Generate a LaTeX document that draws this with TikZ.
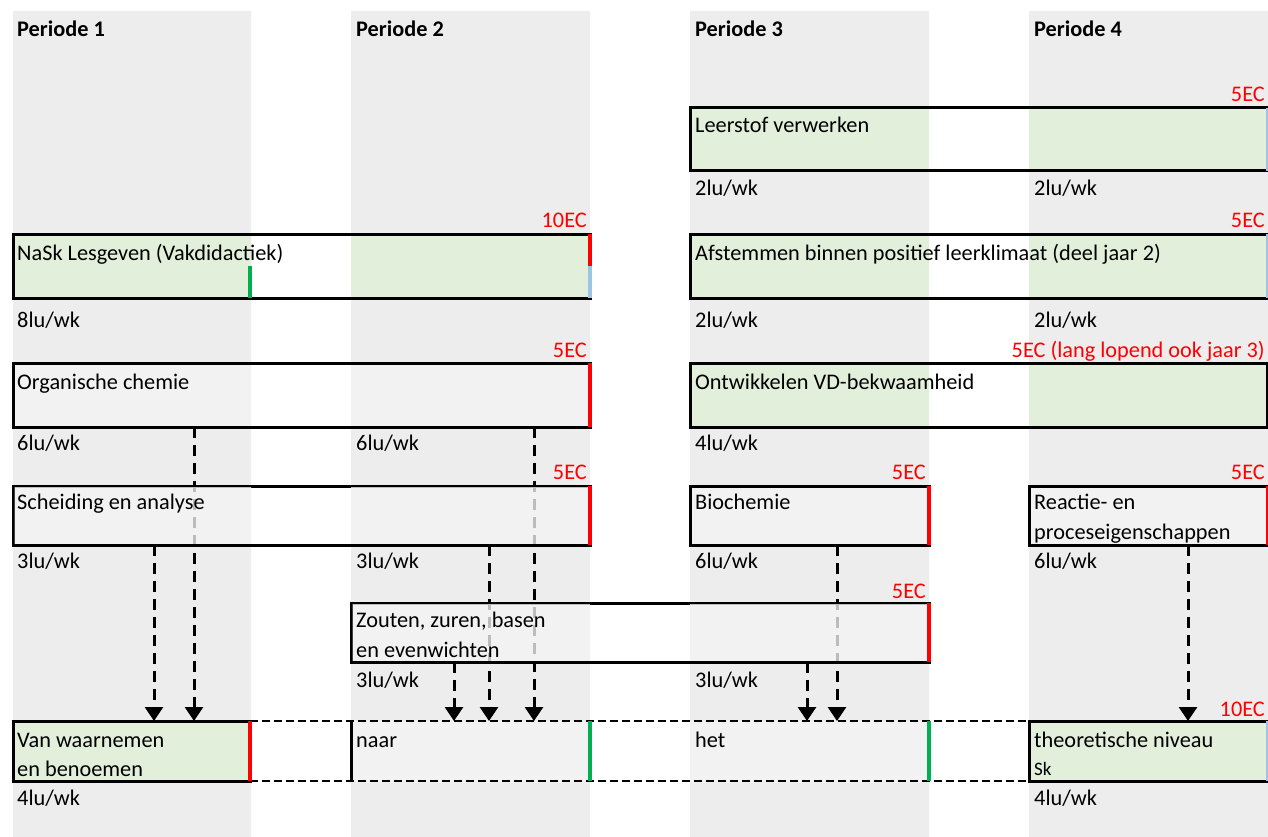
\documentclass[tikz,border=0pt]{standalone}
\usepackage{fontspec}
\setmainfont{Carlito}
\usetikzlibrary{arrows.meta}
\definecolor{colgray}{HTML}{EDEDED}
\definecolor{boxgray}{HTML}{F2F2F2}
\definecolor{boxgreen}{HTML}{E2EFDA}
\definecolor{ecred}{HTML}{FF0000}
\definecolor{edgegreen}{HTML}{00B050}
\definecolor{edgeblue}{HTML}{9DC3E6}
\newcommand\fs{\fontsize{22.3}{26}\selectfont}
\newcommand\colrects{(13,0) rectangle (251,837) (351,0) rectangle (590,837) (690,0) rectangle (929,837) (1029,0) rectangle (1268,837)}
\newcommand\mycellfill[5]{%
  \begin{scope}
    \clip (#1,#2) rectangle (#3,#4);
    \fill[white] (#1,#2) rectangle (#3,#4);
    \fill[#5] \colrects;
  \end{scope}}
\newcommand\myfade[4]{%
  \begin{scope}
    \clip (#1+1.6,#2+1.6) rectangle (#3-1.6,#4-1.6);
    \fill[boxgray, fill opacity=0.78] \colrects;
  \end{scope}}
\begin{document}
\begin{tikzpicture}[x=1pt,y=-1pt,
  lbl/.style={anchor=base west, inner sep=0pt, font=\fs},
  hdr/.style={anchor=base west, inner sep=0pt, font=\fs\bfseries},
  ec/.style={anchor=base east, inner sep=0pt, text=ecred, font=\fs},
  boxn/.style={draw, line width=3pt, inner sep=0pt, outer sep=0pt, anchor=north west},
  ghost/.style={inner sep=0pt, outer sep=0pt, anchor=north west},
  arr/.style={line width=3pt, dash pattern=on 11pt off 7pt, -{Triangle[width=18pt,length=14pt]}},
  dline/.style={line width=2.6pt, dash pattern=on 8pt off 4pt},
  redge/.style={ecred, line width=3.4pt},
  gedge/.style={edgegreen, line width=3.4pt},
  bedge/.style={edgeblue, line width=1.6pt}]
\useasboundingbox (0,0) rectangle (1268,837);
\fill[white] (0,0) rectangle (1268,837);
% columns
\fill[colgray] (13,11) rectangle (251,837) (351,11) rectangle (590,837)
  (690,11) rectangle (929,837) (1029,11) rectangle (1268,837);
% fills
\mycellfill{690}{108}{1268}{171}{boxgreen}
\mycellfill{13}{234}{590}{298}{boxgreen}
\mycellfill{690}{234}{1268}{298}{boxgreen}
\mycellfill{13}{363}{590}{427}{boxgray}
\mycellfill{690}{363}{1268}{427}{boxgreen}
\mycellfill{13}{486}{590}{545}{boxgray}
\mycellfill{690}{486}{929}{545}{boxgray}
\mycellfill{1029}{486}{1268}{545}{boxgray}
\mycellfill{351}{603}{929}{662}{boxgray}
\mycellfill{13}{721}{250}{781}{boxgreen}
\mycellfill{250}{721}{1029}{781}{boxgray}
\mycellfill{1029}{721}{1268}{781}{boxgreen}
% boxes
\node[boxn, minimum width=577pt, minimum height=63pt] (leer) at (690,108) {};
\node[boxn, minimum width=577pt, minimum height=64pt] (nask) at (13,234) {};
\node[boxn, minimum width=577pt, minimum height=64pt] (afst) at (690,234) {};
\node[boxn, minimum width=577pt, minimum height=64pt] (org) at (13,363) {};
\node[boxn, minimum width=577pt, minimum height=64pt] (ontw) at (690,363) {};
\node[boxn, minimum width=577pt, minimum height=59pt] (sch) at (13,486) {};
\node[boxn, minimum width=239pt, minimum height=59pt] (bio) at (690,486) {};
\node[boxn, minimum width=238pt, minimum height=59pt] (rea) at (1029,486) {};
\node[boxn, minimum width=578pt, minimum height=59pt] (zout) at (351,603) {};
\node[boxn, minimum width=237pt, minimum height=60pt] (waar) at (13,721) {};
\node[ghost, minimum width=239pt, minimum height=60pt] (naar) at (351,721) {};
\node[ghost, minimum width=239pt, minimum height=60pt] (het) at (690,721) {};
\node[boxn, minimum width=238pt, minimum height=60pt] (theo) at (1029,721) {};
% bottom row dashed frame
\draw[dline] (waar.north east) -- (theo.north west);
\draw[dline] (waar.south east) -- (theo.south west);
\draw[line width=3pt] (naar.north west) -- (naar.south west);
% arrows
\draw[arr] (sch.south -| 154,0) -- (waar.north -| 154,0);
\draw[arr] (org.south -| 194,0) -- (waar.north -| 194,0);
\draw[arr] (zout.south -| 454,0) -- (naar.north -| 454,0);
\draw[arr] (sch.south -| 489,0) -- (naar.north -| 489,0);
\draw[arr] (org.south -| 534,0) -- (naar.north -| 534,0);
\draw[arr] (zout.south -| 807,0) -- (het.north -| 807,0);
\draw[arr] (bio.south -| 837,0) -- (het.north -| 837,0);
\draw[arr] (rea.south -| 1188,0) -- (theo.north -| 1188,0);
% fade arrows behind boxes
\myfade{13}{486}{590}{545}
\myfade{351}{603}{929}{662}
% coloured edges
\draw[redge] (nask.north east) -- (nask.east);
\draw[edgeblue, line width=3.4pt] (nask.east) -- (nask.south east);
\draw[gedge] (nask.south -| 250,0) -- (nask.east -| 250,0);
\draw[redge] (org.north east) -- (org.south east);
\draw[redge] (sch.north east) -- (sch.south east);
\draw[redge] (bio.north east) -- (bio.south east);
\draw[redge] (zout.north east) -- (zout.south east);
\draw[redge] (waar.north east) -- (waar.south east);
\draw[gedge] (naar.north east) -- (naar.south east);
\draw[gedge] (het.north east) -- (het.south east);
\draw[ecred, line width=1.6pt] (rea.north east) -- (rea.south east);
\draw[bedge] (leer.north east) -- (leer.south east);
\draw[bedge] (afst.north east) -- (afst.south east);
\draw[bedge] (theo.north east) -- (theo.south east);
% headers
\node[hdr] (h1) at (17,37) {Periode 1};
\node[hdr] (h2) at (356,37) {Periode 2};
\node[hdr] (h3) at (695,37) {Periode 3};
\node[hdr] (h4) at (1034,37) {Periode 4};
% texts
\node[ec] (e1) at (1265,102) {5EC};
\node[lbl] (t1) at (695,133) {Leerstof verwerken};
\node[lbl] (u1) at (695,196) {2lu/wk};
\node[lbl] (u2) at (1034,196) {2lu/wk};

\node[ec] (e2) at (587,227) {10EC};
\node[ec] (e3) at (1265,227) {5EC};
\node[lbl] (t2) at (17,260) {NaSk Lesgeven (Vakdidactiek)};
\node[lbl] (t3) at (695,260) {Afstemmen binnen positief leerklimaat (deel jaar 2)};
\node[lbl] (u3) at (17,327) {8lu/wk};
\node[lbl] (u4) at (695,327) {2lu/wk};
\node[lbl] (u5) at (1034,327) {2lu/wk};

\node[ec] (e4) at (587,357) {5EC};
\node[ec] (e5) at (1265,357) {5EC (lang lopend ook jaar 3)};
\node[lbl] (t4) at (17,389) {Organische chemie};
\node[lbl] (t5) at (695,389) {Ontwikkelen VD-bekwaamheid};
\node[lbl] (u6) at (17,450) {6lu/wk};
\node[lbl] (u7) at (356,450) {6lu/wk};
\node[lbl] (u8) at (695,450) {4lu/wk};

\node[ec] (e6) at (587,479) {5EC};
\node[ec] (e7) at (926,479) {5EC};
\node[ec] (e8) at (1265,479) {5EC};
\node[lbl] (t6) at (17,509) {Scheiding en analyse};
\node[lbl] (t7) at (695,509) {Biochemie};
\node[lbl] (t8) at (1034,509) {Reactie- en};
\node[lbl] (t9) at (1034,539) {proceseigenschappen};
\node[lbl] (u9) at (17,568) {3lu/wk};
\node[lbl] (u10) at (356,568) {3lu/wk};
\node[lbl] (u11) at (695,568) {6lu/wk};
\node[lbl] (u12) at (1034,568) {6lu/wk};

\node[ec] (e9) at (926,598) {5EC};
\node[lbl] (t10) at (356,627) {Zouten, zuren, basen};
\node[lbl] (t11) at (356,657) {en evenwichten};
\node[lbl] (u13) at (356,687) {3lu/wk};
\node[lbl] (u14) at (695,687) {3lu/wk};

\node[ec] (e10) at (1265,716) {10EC};
\node[lbl] (t12) at (17,747) {Van waarnemen};
\node[lbl] (t13) at (17,776) {en benoemen};
\node[lbl] (t14) at (356,747) {naar};
\node[lbl] (t15) at (695,747) {het};
\node[lbl] (t16) at (1034,747) {theoretische niveau};
\node[lbl] (t17) at (1034,775) {\fontsize{19}{22}\selectfont Sk};
\node[lbl] (u15) at (17,805) {4lu/wk};
\node[lbl] (u16) at (1034,805) {4lu/wk};
\end{tikzpicture}
\end{document}
